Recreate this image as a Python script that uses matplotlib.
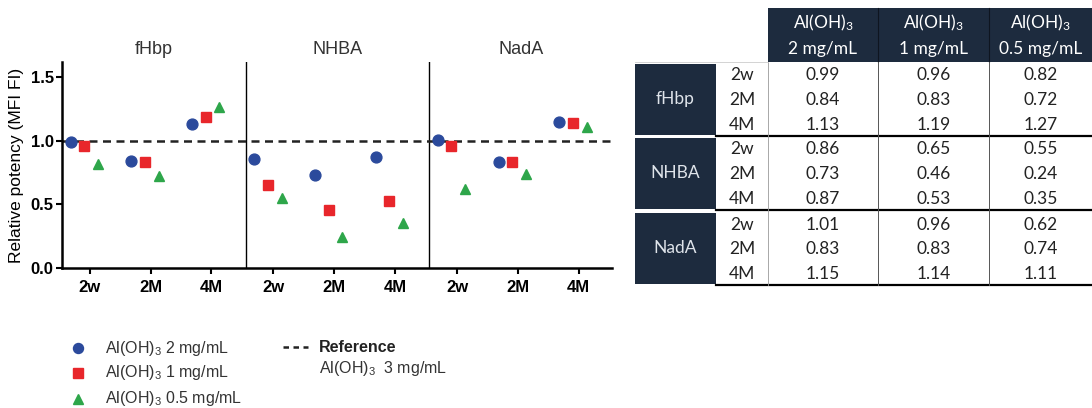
import numpy as np
import matplotlib
matplotlib.use("Agg")
import matplotlib.pyplot as plt
from matplotlib.lines import Line2D
from matplotlib.patches import Rectangle

plt.rcParams["font.family"] = ["Liberation Sans", "DejaVu Sans"]
plt.rcParams["mathtext.default"] = "regular"

# relative potency per antigen, rows = timepoints, one list per Al(OH)3 dose
antigens = ["fHbp", "NHBA", "NadA"]
timepoints = ["2w", "2M", "4M"]
doses = ["2 mg/mL", "1 mg/mL", "0.5 mg/mL"]
pot_2mg = [[0.99, 0.84, 1.13], [0.86, 0.73, 0.87], [1.01, 0.83, 1.15]]
pot_1mg = [[0.96, 0.83, 1.19], [0.65, 0.46, 0.53], [0.96, 0.83, 1.14]]
pot_05mg = [[0.82, 0.72, 1.27], [0.55, 0.24, 0.35], [0.62, 0.74, 1.11]]
reference = 1.0

series = [pot_2mg, pot_1mg, pot_05mg]
colors = ["#2b4a9c", "#e8262b", "#2ea64a"]
markers = ["o", "s", "^"]
msizes = [7.8, 7.4, 7.8]
offsets = [-0.31, -0.09, 0.13]

PANEL_W = 2.96
STEP = 0.98
FIRST = 0.45

fig = plt.figure(figsize=(10.92, 4.08), dpi=100)
W, H = 1092, 408


def fx(px):
    return px / W


def fy(py):
    return 1 - py / H


ax = fig.add_axes([fx(62), fy(268), fx(612) - fx(62), fy(62) - fy(268)])

ticks = []
for i, ag in enumerate(antigens):
    base = i * PANEL_W
    for j in range(len(timepoints)):
        ticks.append(base + FIRST + j * STEP)
    for k, vals in enumerate(series):
        xs = [base + FIRST + j * STEP + offsets[k] for j in range(len(timepoints))]
        ax.plot(xs, vals[i], linestyle="none", marker=markers[k], ms=msizes[k],
                color=colors[k], mec=colors[k], zorder=3)
    if i > 0:
        ax.axvline(base, color="black", lw=1.0, zorder=1)
    ax.text(base + PANEL_W / 2, 1.72, ag, ha="center", va="center",
            fontsize=13, color="#333333")

ax.axhline(reference, color="#222222", lw=1.8, ls=(0, (3.2, 2.2)), zorder=2)

ax.set_xlim(0, 3 * PANEL_W - 0.01)
ax.set_ylim(0, 1.62)
ax.set_yticks([0.0, 0.5, 1.0, 1.5])
ax.set_yticklabels(["0.0", "0.5", "1.0", "1.5"], fontweight="bold", fontsize=12)
ax.set_xticks(ticks)
ax.set_xticklabels(timepoints * 3, fontweight="bold", fontsize=12)
ax.set_ylabel("Relative potency (MFI FI)", fontsize=12.5, labelpad=5)
for s in ["top", "right"]:
    ax.spines[s].set_visible(False)
for s in ["left", "bottom"]:
    ax.spines[s].set_linewidth(1.8)
ax.tick_params(axis="both", width=1.5, length=4, pad=2)
ax.tick_params(axis="x", pad=5)

# legend below the chart
leg_y = [348, 373, 399]
for k in range(3):
    fig.add_artist(Line2D([fx(78)], [fy(leg_y[k])], marker=markers[k], ms=msizes[k] - 0.6,
                          color=colors[k], linestyle="none", transform=fig.transFigure))
    fig.text(fx(105), fy(leg_y[k]), "Al(OH)$_3$ " + doses[k], ha="left", va="center",
             fontsize=11.5, color="#333333")
fig.add_artist(Line2D([fx(283), fx(308)], [fy(347), fy(347)], color="#222222", lw=1.8,
                      ls=(0, (2.2, 1.8)), transform=fig.transFigure))
fig.text(fx(319), fy(347), "Reference", ha="left", va="center", fontsize=11.5,
         fontweight="bold", color="#222222")
fig.text(fx(319), fy(369), "Al(OH)$_3$  3 mg/mL", ha="left", va="center",
         fontsize=11.5, color="#333333")

# summary table on the right, drawn in pixel coordinates
tx = fig.add_axes([0, 0, 1, 1], zorder=-1)
tx.set_xlim(0, W)
tx.set_ylim(H, 0)
tx.axis("off")
navy = "#1d2b3e"
tfont = ["Lato", "DejaVu Sans"]
tsize = 12.5

col_edges = [768, 878, 989, 1092]
tx.add_patch(Rectangle((768, 8), 1092 - 768, 54, color=navy, lw=0))
for c in range(3):
    cx = (col_edges[c] + col_edges[c + 1]) / 2
    tx.text(cx, 23, "Al(OH)$_3$", ha="center", va="center", fontsize=tsize,
            color="white", family=tfont)
    tx.text(cx, 49, doses[c], ha="center", va="center", fontsize=tsize,
            color="white", family=tfont)
for e in col_edges[1:3]:
    tx.plot([e, e], [8, 62], color="#0e1520", lw=0.8)

group_top = [62, 136, 211]
row_h = 24.6
for i, ag in enumerate(antigens):
    top = group_top[i]
    bot = top + 3 * row_h
    tx.add_patch(Rectangle((635, top + 1.5), 716 - 635, bot - top - 2, color=navy, lw=0))
    tx.text((635 + 716) / 2, (top + bot) / 2, ag, ha="center", va="center",
            fontsize=tsize, color="#dfe4ea", family=tfont)
    for j, tp in enumerate(timepoints):
        ry = top + 13.5 + j * row_h
        tx.text(742, ry, tp, ha="center", va="center", fontsize=tsize,
                color="#222222", family=tfont)
        for c, vals in enumerate(series):
            cx = (col_edges[c] + col_edges[c + 1]) / 2
            tx.text(cx, ry, f"{vals[i][j]:.2f}", ha="center", va="center",
                    fontsize=tsize, color="#222222", family=tfont)
    tx.plot([716, 1092], [bot, bot], color="black", lw=1.6)

tx.plot([768, 768], [62, 285], color="#9a9a9a", lw=0.6)
for e in col_edges[1:3]:
    tx.plot([e, e], [62, 285], color="#555555", lw=0.7)
tx.plot([635, 768], [62, 62], color="#cccccc", lw=0.6)

fig.savefig("out.png", dpi=100)
